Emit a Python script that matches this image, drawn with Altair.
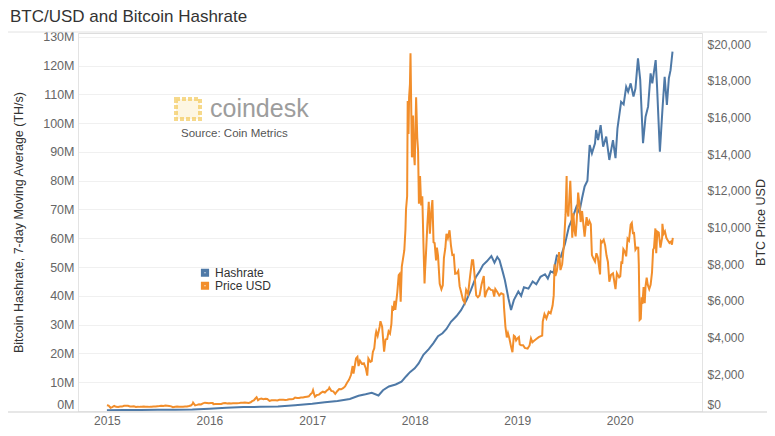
import altair as alt
import pandas as pd

# ---------------- data ----------------
hash_dates = [
    "2015-01-01", "2015-03-01", "2015-05-01", "2015-07-01", "2015-09-01", "2015-11-01",
    "2016-01-01", "2016-03-01", "2016-05-01", "2016-07-01", "2016-09-01", "2016-11-01",
    "2017-01-01", "2017-02-15", "2017-04-01", "2017-05-15", "2017-06-15", "2017-07-10",
    "2017-08-01", "2017-08-25", "2017-09-10", "2017-10-01", "2017-10-25", "2017-11-15",
    "2017-12-01", "2017-12-15", "2018-01-01", "2018-01-15", "2018-02-01", "2018-02-20",
    "2018-03-08", "2018-03-25", "2018-04-10", "2018-04-24", "2018-05-10", "2018-05-30",
    "2018-06-15", "2018-07-05", "2018-07-20", "2018-08-07", "2018-08-20", "2018-09-01",
    "2018-09-15", "2018-10-01", "2018-10-12", "2018-10-22", "2018-10-30", "2018-11-10",
    "2018-11-18", "2018-12-01", "2018-12-10", "2018-12-20", "2019-01-05", "2019-01-15",
    "2019-01-25", "2019-02-10", "2019-02-25", "2019-03-10", "2019-03-25", "2019-04-10",
    "2019-04-20", "2019-04-30", "2019-05-10", "2019-05-22", "2019-06-05", "2019-06-20",
    "2019-07-04", "2019-07-15", "2019-07-31", "2019-08-10", "2019-08-20", "2019-08-29",
    "2019-09-08", "2019-09-16", "2019-09-24", "2019-10-05", "2019-10-09", "2019-10-16",
    "2019-10-25", "2019-11-03", "2019-11-14", "2019-11-25", "2019-12-08", "2019-12-17",
    "2019-12-24", "2020-01-06", "2020-01-15", "2020-01-24", "2020-01-31", "2020-02-09",
    "2020-02-19", "2020-02-26", "2020-03-06", "2020-03-14", "2020-03-24", "2020-04-02",
    "2020-04-11", "2020-04-20", "2020-04-26", "2020-05-08", "2020-05-13", "2020-05-23",
    "2020-06-01", "2020-06-09", "2020-06-17", "2020-06-24", "2020-06-30", "2020-07-07",
]
hash_values = [  # million TH/s, 7-day moving average
    0.30, 0.34, 0.36, 0.40, 0.45, 0.55,
    0.80, 1.10, 1.35, 1.45, 1.60, 2.00,
    2.5, 3.0, 3.5, 4.2, 5.3, 5.8,
    6.3, 5.4, 7.2, 8.5, 9.2, 10.2,
    12.0, 13.5, 14.8, 16.5, 19.5, 21.5,
    23.5, 26.0, 27.0, 28.5, 31.0, 33.0,
    35.0, 38.6, 42.0, 46.6, 48.5, 50.7,
    52.0, 53.8, 51.5, 53.5, 52.4, 48.5,
    45.5, 39.0, 35.1, 38.5, 41.5, 40.0,
    43.0, 42.5, 45.0, 44.0, 46.6, 47.5,
    46.0, 48.5, 48.0, 54.0, 53.5, 58.0,
    64.0, 66.5, 71.0, 69.0, 74.0, 78.0,
    80.0, 92.4, 89.5, 93.0, 97.6, 94.1,
    99.3, 91.8, 95.3, 87.2, 94.1, 87.8,
    98.2, 107.4, 106.5, 112.6, 110.9, 113.8,
    109.2, 112.0, 122.5, 115.0, 93.0, 102.2,
    105.7, 117.3, 113.8, 121.9, 112.6, 90.1,
    104.5, 116.1, 106.3, 115.6, 118.4, 124.8,
]

price_dates = [
    # 2015
    "2015-01-01", "2015-01-07", "2015-01-14", "2015-01-20", "2015-01-27", "2015-02-03",
    "2015-02-10", "2015-02-17", "2015-02-24", "2015-03-03", "2015-03-10", "2015-03-17",
    "2015-03-24", "2015-03-31", "2015-04-07", "2015-04-14", "2015-04-21", "2015-04-28",
    "2015-05-05", "2015-05-12", "2015-05-19", "2015-05-26", "2015-06-02", "2015-06-09",
    "2015-06-16", "2015-06-23", "2015-06-30", "2015-07-07", "2015-07-14", "2015-07-21",
    "2015-07-28", "2015-08-04", "2015-08-11", "2015-08-18", "2015-08-24", "2015-09-01",
    "2015-09-08", "2015-09-15", "2015-09-22", "2015-09-29", "2015-10-06", "2015-10-13",
    "2015-10-20", "2015-10-27", "2015-11-03", "2015-11-04", "2015-11-11", "2015-11-18",
    "2015-11-25", "2015-12-02", "2015-12-09", "2015-12-16", "2015-12-23", "2015-12-30",
    # 2016
    "2016-01-06", "2016-01-13", "2016-01-15", "2016-01-22", "2016-01-29", "2016-02-05",
    "2016-02-12", "2016-02-19", "2016-02-26", "2016-03-04", "2016-03-11", "2016-03-18",
    "2016-03-25", "2016-04-01", "2016-04-08", "2016-04-15", "2016-04-22", "2016-04-29",
    "2016-05-06", "2016-05-13", "2016-05-20", "2016-05-27", "2016-06-01", "2016-06-07",
    "2016-06-12", "2016-06-17", "2016-06-22", "2016-06-27", "2016-07-04", "2016-07-11",
    "2016-07-18", "2016-07-25", "2016-08-02", "2016-08-09", "2016-08-16", "2016-08-23",
    "2016-08-30", "2016-09-06", "2016-09-13", "2016-09-20", "2016-09-27", "2016-10-04",
    "2016-10-11", "2016-10-18", "2016-10-25", "2016-11-01", "2016-11-08", "2016-11-15",
    "2016-11-22", "2016-11-29", "2016-12-06", "2016-12-13", "2016-12-20", "2016-12-27",
    # 2017
    "2017-01-01", "2017-01-04", "2017-01-08", "2017-01-11", "2017-01-18", "2017-01-25",
    "2017-02-01", "2017-02-08", "2017-02-15", "2017-02-22", "2017-03-01", "2017-03-03",
    "2017-03-10", "2017-03-17", "2017-03-24", "2017-03-31", "2017-04-07", "2017-04-14",
    "2017-04-21", "2017-04-28", "2017-05-05", "2017-05-12", "2017-05-19", "2017-05-25",
    "2017-05-28", "2017-06-01", "2017-06-06", "2017-06-11", "2017-06-15", "2017-06-20",
    "2017-06-27", "2017-07-04", "2017-07-11", "2017-07-16", "2017-07-20", "2017-07-27",
    "2017-08-01", "2017-08-05", "2017-08-10", "2017-08-15", "2017-08-17", "2017-08-22",
    "2017-08-29", "2017-09-01", "2017-09-07", "2017-09-14", "2017-09-19", "2017-09-25",
    "2017-09-30", "2017-10-05", "2017-10-10", "2017-10-13", "2017-10-17", "2017-10-21",
    "2017-10-24", "2017-10-31", "2017-11-05", "2017-11-08", "2017-11-12", "2017-11-16",
    "2017-11-20", "2017-11-25", "2017-11-29", "2017-12-01", "2017-12-05", "2017-12-07",
    "2017-12-08", "2017-12-10", "2017-12-12", "2017-12-15", "2017-12-17", "2017-12-19",
    "2017-12-22", "2017-12-24", "2017-12-26", "2017-12-28",
    # 2018
    "2018-01-01", "2018-01-06", "2018-01-10", "2018-01-13", "2018-01-16", "2018-01-20",
    "2018-01-24", "2018-01-28", "2018-02-01", "2018-02-05", "2018-02-07", "2018-02-10",
    "2018-02-15", "2018-02-20", "2018-02-24", "2018-03-01", "2018-03-05", "2018-03-09",
    "2018-03-13", "2018-03-18", "2018-03-21", "2018-03-25", "2018-03-31", "2018-04-06",
    "2018-04-11", "2018-04-15", "2018-04-20", "2018-04-24", "2018-04-29", "2018-05-05",
    "2018-05-10", "2018-05-15", "2018-05-20", "2018-05-25", "2018-05-31", "2018-06-05",
    "2018-06-10", "2018-06-15", "2018-06-22", "2018-06-28", "2018-07-03", "2018-07-10",
    "2018-07-17", "2018-07-24", "2018-07-28", "2018-08-01", "2018-08-08", "2018-08-14",
    "2018-08-20", "2018-08-27", "2018-09-04", "2018-09-08", "2018-09-15", "2018-09-22",
    "2018-09-29", "2018-10-06", "2018-10-11", "2018-10-15", "2018-10-22", "2018-10-29",
    "2018-11-05", "2018-11-13", "2018-11-15", "2018-11-20", "2018-11-25", "2018-11-29",
    "2018-12-04", "2018-12-10", "2018-12-15", "2018-12-20", "2018-12-24", "2018-12-28",
    # 2019
    "2019-01-01", "2019-01-07", "2019-01-10", "2019-01-15", "2019-01-22", "2019-01-28",
    "2019-02-07", "2019-02-14", "2019-02-19", "2019-02-24", "2019-03-01", "2019-03-10",
    "2019-03-20", "2019-03-31", "2019-04-02", "2019-04-08", "2019-04-15", "2019-04-23",
    "2019-04-30", "2019-05-07", "2019-05-11", "2019-05-14", "2019-05-17", "2019-05-22",
    "2019-05-30", "2019-06-04", "2019-06-10", "2019-06-16", "2019-06-22", "2019-06-26",
    "2019-06-27", "2019-06-30", "2019-07-02", "2019-07-04", "2019-07-09", "2019-07-12",
    "2019-07-16", "2019-07-20", "2019-07-24", "2019-07-28", "2019-08-01", "2019-08-06",
    "2019-08-10", "2019-08-15", "2019-08-20", "2019-08-25", "2019-08-29", "2019-09-05",
    "2019-09-10", "2019-09-15", "2019-09-20", "2019-09-24", "2019-09-30", "2019-10-05",
    "2019-10-10", "2019-10-15", "2019-10-23", "2019-10-26", "2019-10-30", "2019-11-05",
    "2019-11-10", "2019-11-15", "2019-11-20", "2019-11-25", "2019-12-01", "2019-12-08",
    "2019-12-17", "2019-12-22", "2019-12-30",
    # 2020
    "2020-01-03", "2020-01-07", "2020-01-10", "2020-01-14", "2020-01-19", "2020-01-24",
    "2020-01-29", "2020-02-03", "2020-02-09", "2020-02-13", "2020-02-17", "2020-02-21",
    "2020-02-26", "2020-03-02", "2020-03-07", "2020-03-09", "2020-03-12", "2020-03-16",
    "2020-03-19", "2020-03-22", "2020-03-26", "2020-03-30", "2020-04-02", "2020-04-06",
    "2020-04-10", "2020-04-15", "2020-04-20", "2020-04-25", "2020-04-29", "2020-05-02",
    "2020-05-07", "2020-05-10", "2020-05-14", "2020-05-19", "2020-05-25", "2020-05-31",
    "2020-06-01", "2020-06-05", "2020-06-10", "2020-06-15", "2020-06-20", "2020-06-26",
    "2020-07-01", "2020-07-05", "2020-07-08",
]
price_values = [
    # 2015
    314, 294, 178, 211, 273, 227,
    220, 243, 239, 281, 291, 285,
    247, 244, 254, 219, 235, 225,
    234, 242, 232, 237, 225, 229,
    250, 244, 264, 269, 288, 277,
    294, 285, 270, 253, 210, 228,
    243, 230, 230, 237, 246, 250,
    270, 296, 403, 450, 310, 335,
    365, 360, 415, 455, 440, 427,
    # 2016
    431, 432, 373, 382, 379, 386,
    384, 421, 432, 410, 420, 408,
    416, 417, 420, 429, 450, 455,
    461, 455, 442, 473, 536, 576,
    668, 753, 592, 647, 677, 648,
    672, 655, 547, 588, 581, 584,
    574, 610, 608, 608, 606, 610,
    641, 637, 654, 729, 710, 712,
    739, 734, 759, 780, 800, 933,
    # 2017
    998, 1135, 905, 777, 871, 893,
    985, 1050, 1008, 1120, 1190, 1270,
    1098, 1071, 937, 1080, 1190, 1180,
    1240, 1340, 1540, 1700, 1960, 2450,
    2040, 2400, 2860, 2950, 2450, 2740,
    2570, 2600, 2320, 1930, 2860, 2680,
    2720, 3220, 3420, 4180, 4330, 4090,
    4580, 4890, 4600, 3230, 3900, 3930,
    4340, 4220, 4750, 5640, 5570, 6000,
    5510, 6470, 7400, 7460, 5950, 7870,
    8260, 8760, 9890, 10980, 11700, 16900,
    16000, 15100, 17100, 17800, 19500, 17200,
    13830, 13950, 16100, 14300,
    # 2018
    13400, 17100, 14900, 14200, 11300, 12800,
    11200, 11700, 9150, 6950, 7700, 8550,
    10150, 11400, 9660, 10900, 11500, 9200,
    9150, 8200, 8900, 8470, 6930, 6630,
    6850, 8350, 8870, 9650, 9420, 9850,
    9030, 8500, 8520, 7480, 7500, 7630,
    6790, 6500, 6050, 5900, 6600, 6380,
    7320, 8220, 8220, 7600, 6300, 6200,
    6300, 6900, 7360, 6200, 6540, 6720,
    6600, 6590, 6240, 6650, 6490, 6290,
    6420, 6360, 5650, 4600, 4010, 4240,
    3960, 3510, 3200, 4100, 4050, 3850,
    # 2019
    3940, 4030, 3630, 3580, 3580, 3440,
    3400, 3570, 3950, 3740, 3810, 3920,
    4040, 4110, 4880, 5280, 5040, 5400,
    5320, 5750, 6300, 7990, 7360, 7630,
    8660, 7680, 8000, 8990, 10700, 12800,
    11100, 10800, 10600, 11150, 12550, 11350,
    9440, 10770, 9850, 9520, 10400, 11900,
    11300, 10300, 10900, 10100, 9500, 10570,
    10100, 10360, 10180, 8500, 8290, 8140,
    8600, 8370, 7440, 9260, 9190, 9330,
    9040, 8470, 8120, 7050, 7420, 7500,
    6640, 7510, 7280,
    # 2020
    7340, 8160, 8020, 8820, 8700, 8430,
    9390, 9290, 10160, 10250, 9690, 9700,
    8790, 8910, 8900, 7950, 4970, 5030,
    6200, 5830, 6760, 5880, 6800, 7270,
    6860, 6640, 6880, 7550, 8800, 8870,
    9950, 8600, 9780, 9730, 8900, 9450,
    10200, 9650, 9790, 9440, 9300, 9160,
    9230, 9070, 9430,
]

series_names = ["Hashrate", "Price USD"]
series_colors = ["#4e79a7", "#f28e2b"]
year_ticks = [2015, 2016, 2017, 2018, 2019, 2020]
hash_ticks = list(range(0, 131, 10))
price_ticks = list(range(0, 20001, 2000))

title_text = "BTC/USD and Bitcoin Hashrate"
left_title = "Bitcoin Hashrate, 7-day Moving Average (TH/s)"
right_title = "BTC Price USD"

# ---------------- frames ----------------
hash_df = pd.DataFrame({"date": pd.to_datetime(hash_dates), "hash": hash_values, "series": series_names[0]})
price_df = pd.DataFrame({"date": pd.to_datetime(price_dates), "price": price_values, "series": series_names[1]})
one = pd.DataFrame({"k": [0]})

W, H = 624, 378
FONT = "Liberation Sans"

x_enc = alt.X(
    "date:T",
    title=None,
    scale=alt.Scale(domain=[alt.DateTime(year=2014, month=9, date=20),
                            alt.DateTime(year=2020, month=10, date=20)]),
    axis=alt.Axis(
        values=[alt.DateTime(year=y, month=1, date=1) for y in year_ticks],
        format="%Y", grid=False, ticks=False, domain=False,
        labelFontSize=12, labelColor="#666666", labelPadding=4, labelFlush=False,
    ),
)

color_enc = alt.Color(
    "series:N",
    scale=alt.Scale(domain=series_names, range=series_colors),
    legend=alt.Legend(
        title=None, orient="none", legendX=121, legendY=234,
        symbolType="square", symbolSize=22, symbolStrokeWidth=3.5,
        labelFontSize=12, labelColor="#333333", rowPadding=0, labelOffset=4,
        clipHeight=11.5,
    ),
)

hash_line = alt.Chart(hash_df).mark_line(strokeWidth=2, clip=True).encode(
    x=x_enc,
    y=alt.Y(
        "hash:Q",
        scale=alt.Scale(domain=[0, 131.3], nice=False, zero=False),
        axis=alt.Axis(
            orient="left", values=hash_ticks, labelExpr="datum.value + 'M'",
            title=left_title, titleFontSize=12.5, titleFontWeight="normal", titleColor="#333333",
            titleX=-60, titleY=H / 2, titleAngle=270, titleBaseline="middle", titleAlign="center",
            labelFontSize=12.5, labelColor="#666666", labelPadding=4, labelFlush=True,
            ticks=False, domain=True, domainColor="#e3e3e3",
            grid=True, gridColor="#f0f0f0",
        ),
    ),
    color=color_enc,
)

price_line = alt.Chart(price_df).mark_line(strokeWidth=2, clip=True).encode(
    x=x_enc,
    y=alt.Y(
        "price:Q",
        scale=alt.Scale(domain=[0, 20600], nice=False, zero=False),
        axis=alt.Axis(
            orient="right", values=price_ticks, format="$,d",
            title=right_title, titleFontSize=12.5, titleFontWeight="normal", titleColor="#333333",
            titleX=58.5, titleY=H / 2, titleAngle=270, titleBaseline="middle", titleAlign="center",
            labelFontSize=12, labelColor="#666666", labelPadding=5, labelFlush=True,
            ticks=False, domain=True, domainColor="#e3e3e3", grid=False,
        ),
    ),
    color=color_enc,
)

top_rule = alt.Chart(one).mark_rule(color="#e2e2e2", strokeWidth=1).encode(
    x=alt.value(-71), x2=alt.value(697), y=alt.value(-1)
)
bottom_rule = alt.Chart(one).mark_rule(color="#cfcfcf", strokeWidth=1).encode(
    x=alt.value(-71), x2=alt.value(697), y=alt.value(H + 1)
)

title_mark = alt.Chart(pd.DataFrame({"t": [title_text]})).mark_text(
    align="left", baseline="alphabetic", fontSize=17, font=FONT, color="#333333"
).encode(text="t:N", x=alt.value(-68), y=alt.value(-11.5))

logo_icon = alt.Chart(one).mark_rect(
    fill="#f7dc8c", fillOpacity=0.25, stroke="#f2c95a", strokeWidth=4,
    strokeDash=[4, 2], strokeOpacity=0.7,
).encode(x=alt.value(98), x2=alt.value(122), y=alt.value(66), y2=alt.value(86))

logo_text = alt.Chart(pd.DataFrame({"t": ["coindesk"]})).mark_text(
    align="left", baseline="alphabetic", fontSize=25, font=FONT, color="#8c8c8c", opacity=0.85
).encode(text="t:N", x=alt.value(132), y=alt.value(84))

source_text = alt.Chart(pd.DataFrame({"t": ["Source: Coin Metrics"]})).mark_text(
    align="left", baseline="middle", fontSize=11.5, font=FONT, color="#555555"
).encode(text="t:N", x=alt.value(103), y=alt.value(101))

chart = alt.layer(
    logo_icon, logo_text, source_text, hash_line, price_line,
    top_rule, bottom_rule, title_mark,
).resolve_scale(y="independent").properties(
    width=W, height=H,
    padding={"left": 70, "top": 25, "right": 65, "bottom": 19},
    autosize=alt.AutoSizeParams(type="none"),
).configure_view(stroke=None).configure(font=FONT)

chart.save("out.html", embed_options={"renderer": "svg", "actions": False})
